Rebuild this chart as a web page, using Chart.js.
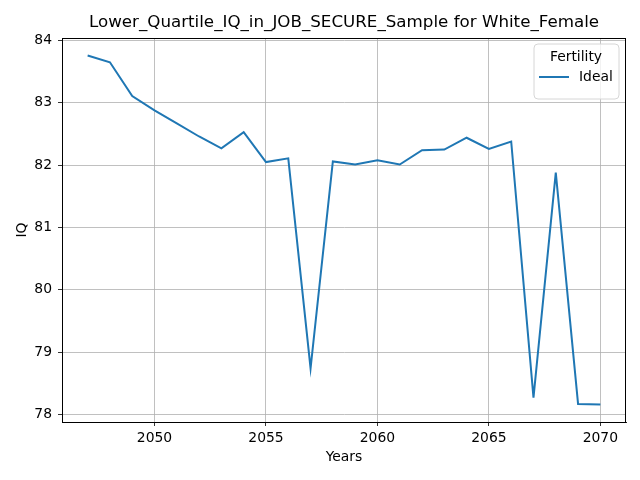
<!DOCTYPE html>
<html>
<head>
<meta charset="utf-8">
<script src="https://cdn.jsdelivr.net/npm/chart.js@4.4.1/dist/chart.umd.min.js"></script>
<style>
html,body{margin:0;padding:0;background:#fff;}
#wrap{width:640px;height:480px;}
</style>
</head>
<body>
<div id="wrap"><canvas id="c" width="640" height="480"></canvas></div>
<script>
const years = [2047,2048,2049,2050,2051,2052,2053,2054,2055,2056,2057,2058,2059,2060,2061,2062,2063,2064,2065,2066,2067,2068,2069,2070];
const idealIQ = [83.76,83.65,83.11,82.88,82.67,82.46,82.27,82.53,82.05,82.11,78.74,82.06,82.01,82.08,82.01,82.24,82.25,82.44,82.26,82.38,78.27,81.88,78.17,78.16];
const xTicks = [2050,2055,2060,2065,2070];
const yTicks = [78,79,80,81,82,83,84];
const titleText = 'Lower_Quartile_IQ_in_JOB_SECURE_Sample for White_Female';
const legendTitle = 'Fertility';
const seriesLabel = 'Ideal';
const FONT = 'DejaVu Sans';

const frame = {
  id: 'frame',
  afterDatasetsDraw(chart) {
    const {ctx, chartArea: a} = chart;
    ctx.save();
    ctx.strokeStyle = '#000';
    ctx.lineWidth = 1;
    ctx.strokeRect(Math.round(a.left)+0.5, Math.round(a.top)+0.5, Math.round(a.right-a.left)-1, Math.round(a.bottom-a.top));
    ctx.restore();
  },
  afterDraw(chart) {
    const ctx = chart.ctx;
    const a = chart.chartArea;
    const ds = chart.data.datasets[0];
    const opts = chart.options.plugins.frame;
    ctx.save();
    // title centred over plot area
    ctx.fillStyle = '#000';
    ctx.font = '16.7px "' + FONT + '"';
    ctx.textAlign = 'center';
    ctx.textBaseline = 'middle';
    ctx.fillText(opts.title, (a.left + a.right) / 2, 23);
    // legend
    const x = 534, y = 44, w = 85, h = 55, r = 4;
    ctx.beginPath();
    ctx.moveTo(x+r,y); ctx.lineTo(x+w-r,y); ctx.quadraticCurveTo(x+w,y,x+w,y+r);
    ctx.lineTo(x+w,y+h-r); ctx.quadraticCurveTo(x+w,y+h,x+w-r,y+h);
    ctx.lineTo(x+r,y+h); ctx.quadraticCurveTo(x,y+h,x,y+h-r);
    ctx.lineTo(x,y+r); ctx.quadraticCurveTo(x,y,x+r,y); ctx.closePath();
    ctx.fillStyle = 'rgba(255,255,255,0.8)';
    ctx.fill();
    ctx.strokeStyle = '#d6d6d6';
    ctx.lineWidth = 1;
    ctx.stroke();
    ctx.fillStyle = '#000';
    ctx.font = '13.9px "' + FONT + '"';
    ctx.textAlign = 'center';
    ctx.fillText(opts.legendTitle, 576, 57);
    ctx.strokeStyle = ds.borderColor;
    ctx.lineWidth = 2;
    ctx.beginPath(); ctx.moveTo(539, 77); ctx.lineTo(569, 77); ctx.stroke();
    ctx.textAlign = 'left';
    ctx.fillText(ds.label, 579, 77);
    ctx.restore();
  }
};

new Chart(document.getElementById('c'), {
  type: 'line',
  data: {
    labels: years,
    datasets: [{
      label: seriesLabel,
      data: years.map((y,i)=>({x:y, y:idealIQ[i]})),
      borderColor: '#1f77b4',
      borderWidth: 2,
      pointRadius: 0,
      tension: 0,
      fill: false
    }]
  },
  options: {
    responsive: false,
    animation: false,
    devicePixelRatio: 1,
    layout: {padding: {left: 0, right: 14, top: 38, bottom: 0}},
    plugins: {
      legend: {display: false},
      tooltip: {enabled: false},
      title: {display: false},
      frame: {title: titleText, legendTitle: legendTitle}
    },
    scales: {
      x: {
        type: 'linear',
        min: 2045.85, max: 2071.15,
        afterBuildTicks(s){ s.ticks = xTicks.map(v=>({value:v})); },
        afterFit(s){ s.height = 58; },
        ticks: {color:'#000', font:{family:FONT, size:13.9}, padding: 4, maxRotation:0, callback: v => String(v)},
        grid: {color:'#b0b0b0', lineWidth:0.8, tickColor:'#000', tickLength:4, drawTicks:true},
        border: {color:'#000', width:1},
        title: {display:true, text:'Years', color:'#000', font:{family:FONT, size:13.9}, padding:{top:0, bottom:14}}
      },
      y: {
        min: 77.88, max: 84.04,
        afterBuildTicks(s){ s.ticks = yTicks.map(v=>({value:v})); },
        afterFit(s){ s.width = 62; },
        ticks: {color:'#000', font:{family:FONT, size:13.9}, padding: 6, callback: v => String(v)},
        grid: {color:'#b0b0b0', lineWidth:0.8, tickColor:'#000', tickLength:4, drawTicks:true},
        border: {color:'#000', width:1},
        title: {display:true, text:'IQ', color:'#000', font:{family:FONT, size:13.9}, padding:{top:14, bottom:0}}
      }
    }
  },
  plugins: [frame]
});
</script>
</body>
</html>
